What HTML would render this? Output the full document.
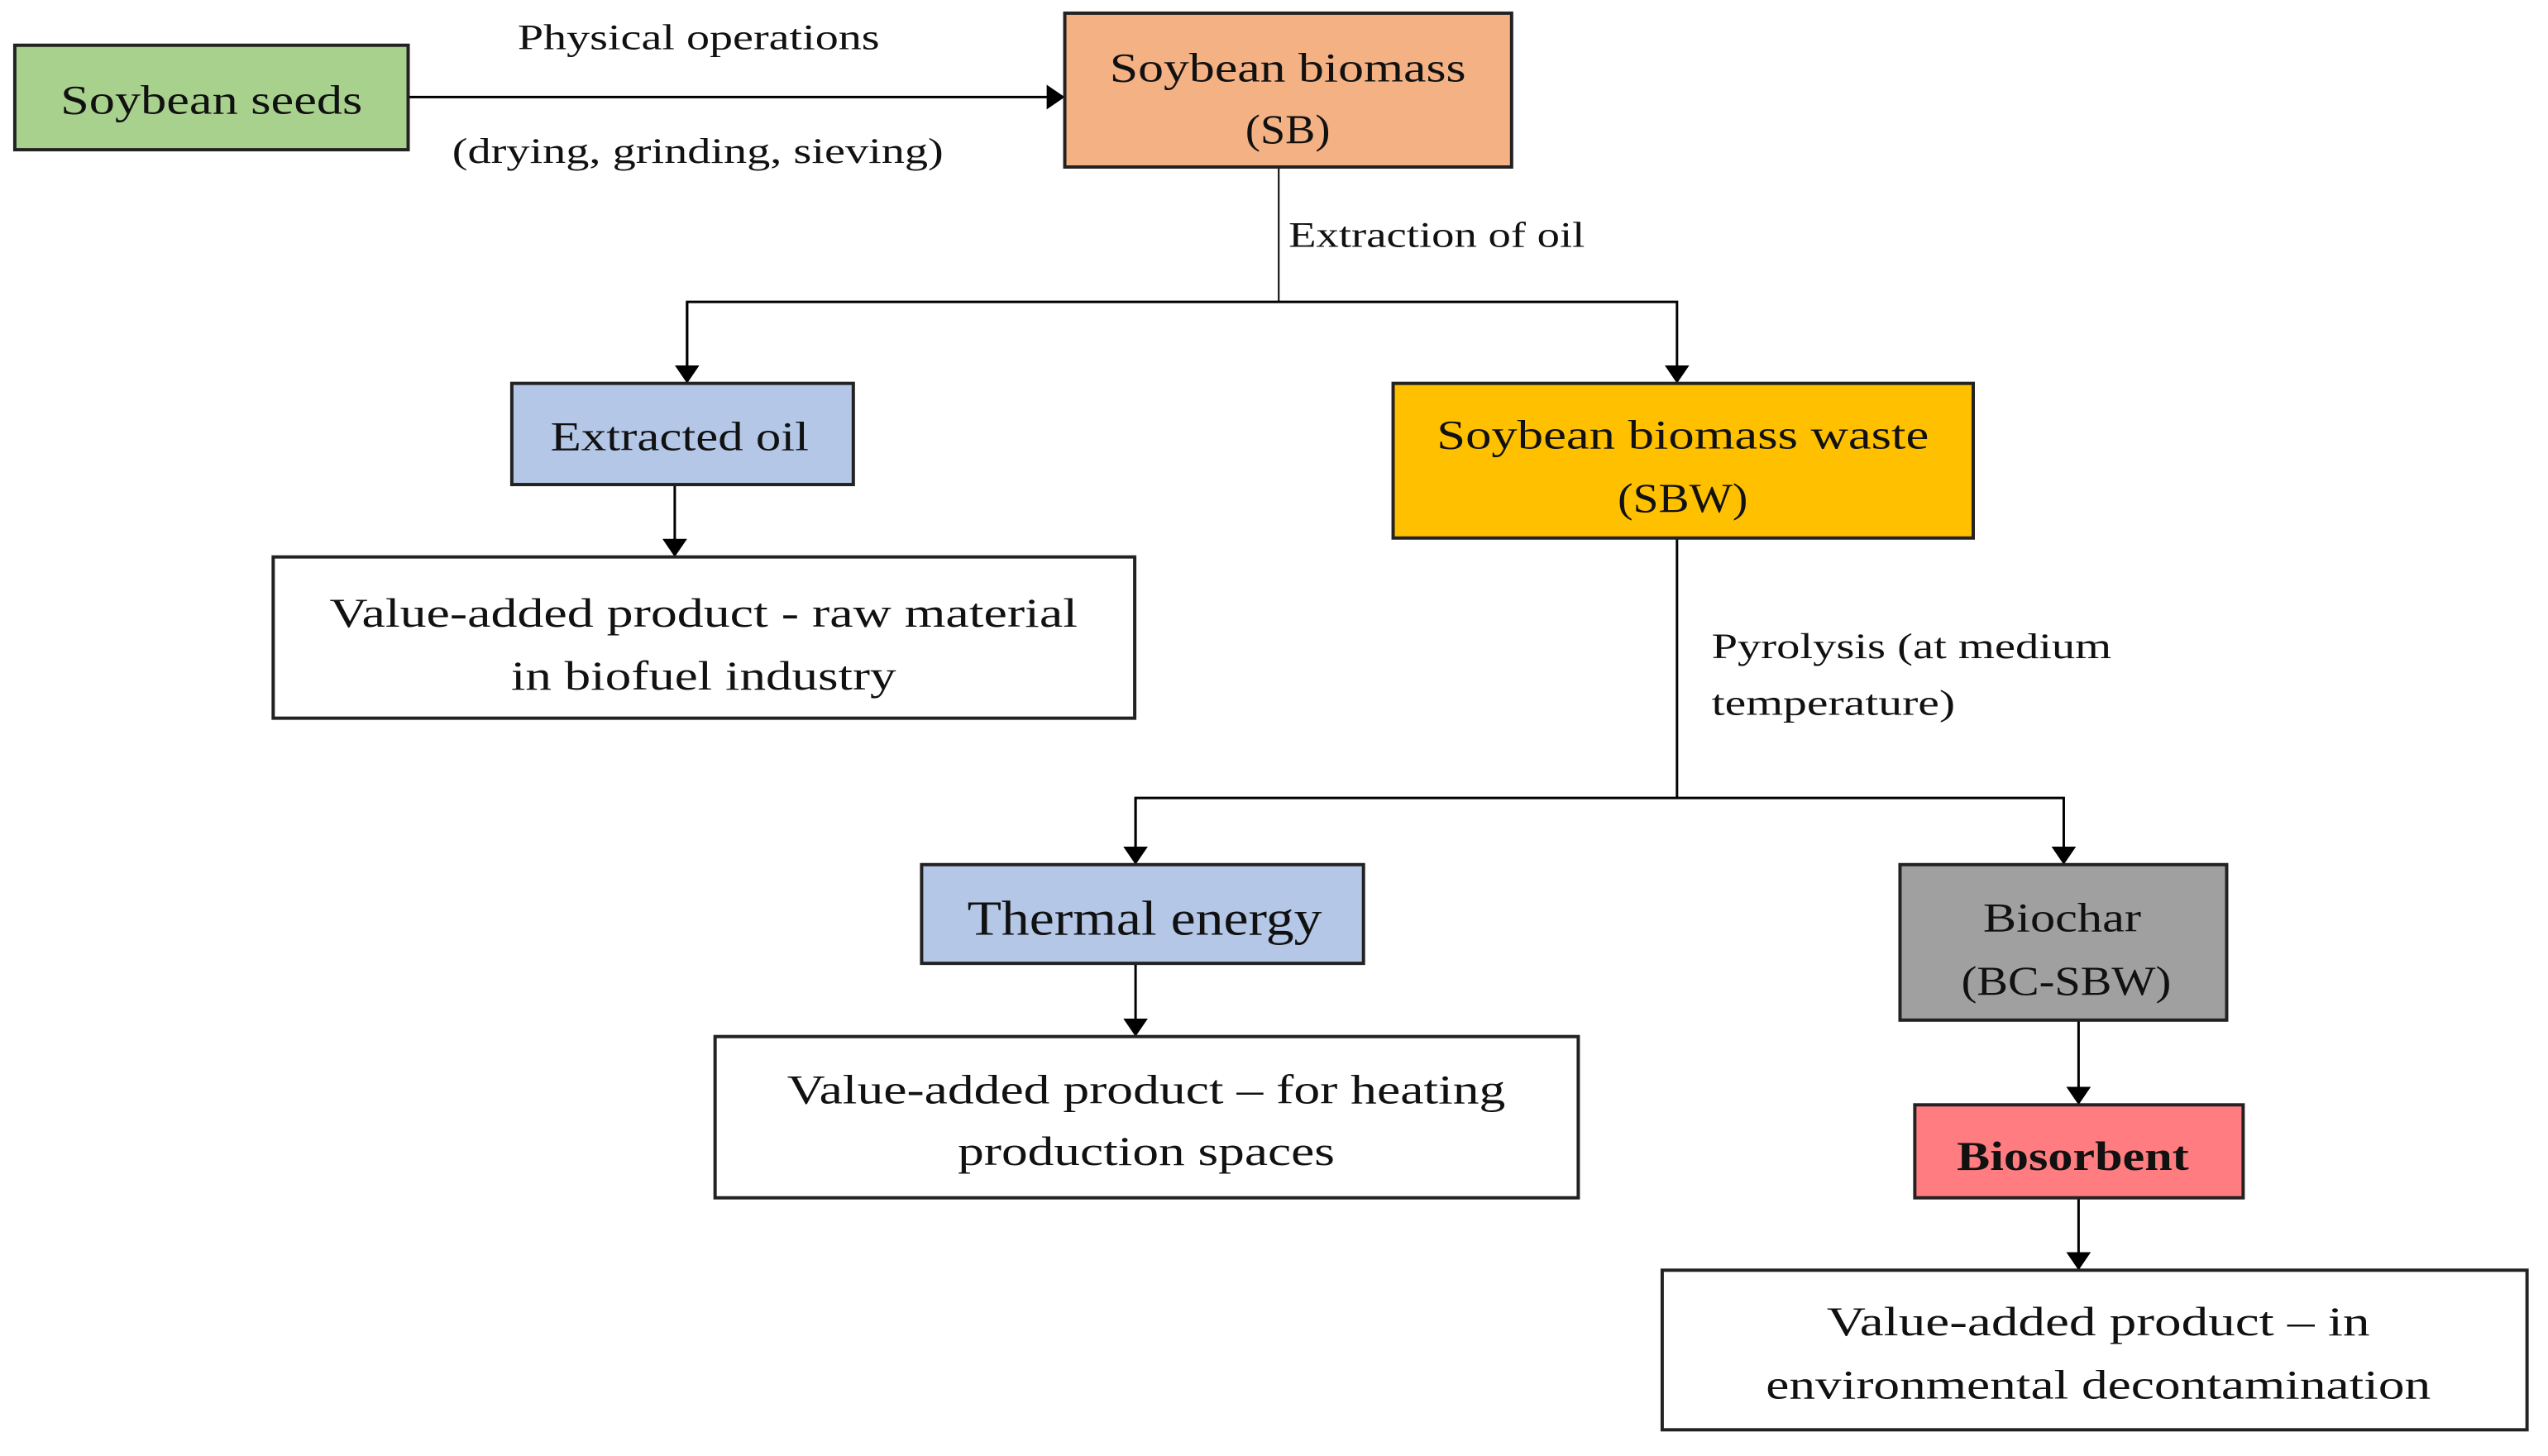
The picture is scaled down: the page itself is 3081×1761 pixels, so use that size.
<!DOCTYPE html>
<html><head><meta charset="utf-8"><style>
html,body{margin:0;padding:0;background:#fff}
svg{display:block}
text{font-family:"Liberation Serif",serif;fill:#111}
</style></head><body>
<svg width="3081" height="1761" viewBox="0 0 3081 1761" xmlns="http://www.w3.org/2000/svg">
<defs><marker id="a" markerWidth="22" markerHeight="30" refX="22" refY="11" orient="auto" markerUnits="userSpaceOnUse" viewBox="0 0 22 22" preserveAspectRatio="none"><path d="M0,0 L22,11 L0,22 Z" fill="#000"/></marker></defs>
<g transform="scale(0.995)">
<g stroke="#000" stroke-width="3" fill="none">
<line x1="496" y1="118" x2="1294" y2="118" marker-end="url(#a)"/>
<line x1="1554" y1="203" x2="1554" y2="367" stroke-width="2"/>
<polyline points="835,466 835,367 2038,367 2038,466" marker-end="url(#a)"/>
<line x1="835" y1="367" x2="835" y2="466" marker-end="url(#a)"/>
<line x1="820" y1="589" x2="820" y2="677" marker-end="url(#a)"/>
<line x1="2038" y1="654" x2="2038" y2="970"/>
<polyline points="1380,1051 1380,970 2508,970 2508,1051" marker-end="url(#a)"/>
<line x1="1380" y1="970" x2="1380" y2="1051" marker-end="url(#a)"/>
<line x1="1380" y1="1171" x2="1380" y2="1260" marker-end="url(#a)"/>
<line x1="2526" y1="1240" x2="2526" y2="1343" marker-end="url(#a)"/>
<line x1="2526" y1="1456" x2="2526" y2="1544" marker-end="url(#a)"/>
</g>
<g stroke="#222" stroke-width="4">
<rect x="18" y="55" width="478" height="127" fill="#a9d18e"/>
<rect x="1294" y="16" width="543" height="187" fill="#f4b183"/>
<rect x="622" y="466" width="415" height="123" fill="#b4c7e7"/>
<rect x="332" y="677" width="1047" height="196" fill="#fff"/>
<rect x="1693" y="466" width="705" height="188" fill="#ffc000"/>
<rect x="1120" y="1051" width="537" height="120" fill="#b4c7e7"/>
<rect x="869" y="1260" width="1049" height="196" fill="#fff"/>
<rect x="2309" y="1051" width="397" height="189" fill="#a0a0a0"/>
<rect x="2327" y="1343" width="399" height="113" fill="#ff7c80"/>
<rect x="2020" y="1544" width="1051" height="194" fill="#fff"/>
</g>
<g font-size="50" text-anchor="middle">
<text x="257" y="138" textLength="367" lengthAdjust="spacingAndGlyphs">Soybean seeds</text>
<text x="849" y="60" font-size="44" textLength="440" lengthAdjust="spacingAndGlyphs">Physical operations</text>
<text x="848" y="198" font-size="44" textLength="597" lengthAdjust="spacingAndGlyphs">(drying, grinding, sieving)</text>
<text x="1565" y="99" textLength="433" lengthAdjust="spacingAndGlyphs">Soybean biomass</text>
<text x="1565" y="174" textLength="103" lengthAdjust="spacingAndGlyphs">(SB)</text>
<text x="1746" y="300" font-size="44" textLength="360" lengthAdjust="spacingAndGlyphs">Extraction of oil</text>
<text x="826" y="547" textLength="314" lengthAdjust="spacingAndGlyphs">Extracted oil</text>
<text x="855" y="762" textLength="909" lengthAdjust="spacingAndGlyphs">Value-added product - raw material</text>
<text x="855" y="838" textLength="468" lengthAdjust="spacingAndGlyphs">in biofuel industry</text>
<text x="2045" y="545" textLength="598" lengthAdjust="spacingAndGlyphs">Soybean biomass waste</text>
<text x="2045" y="622" textLength="158" lengthAdjust="spacingAndGlyphs">(SBW)</text>
<text x="2080" y="800" font-size="44" text-anchor="start" textLength="486" lengthAdjust="spacingAndGlyphs">Pyrolysis (at medium</text>
<text x="2080" y="869" font-size="44" text-anchor="start" textLength="296" lengthAdjust="spacingAndGlyphs">temperature)</text>
<text x="1391" y="1136" font-size="60" textLength="431" lengthAdjust="spacingAndGlyphs">Thermal energy</text>
<text x="1393" y="1341" textLength="873" lengthAdjust="spacingAndGlyphs">Value-added product – for heating</text>
<text x="1393" y="1416" textLength="458" lengthAdjust="spacingAndGlyphs">production spaces</text>
<text x="2506" y="1132" textLength="192" lengthAdjust="spacingAndGlyphs">Biochar</text>
<text x="2511" y="1209" textLength="255" lengthAdjust="spacingAndGlyphs">(BC-SBW)</text>
<text x="2519" y="1422" font-weight="bold" textLength="282" lengthAdjust="spacingAndGlyphs">Biosorbent</text>
<text x="2550" y="1623" textLength="660" lengthAdjust="spacingAndGlyphs">Value-added product – in</text>
<text x="2550" y="1700" textLength="808" lengthAdjust="spacingAndGlyphs">environmental decontamination</text>
</g>
</g>
</svg>
</body></html>
